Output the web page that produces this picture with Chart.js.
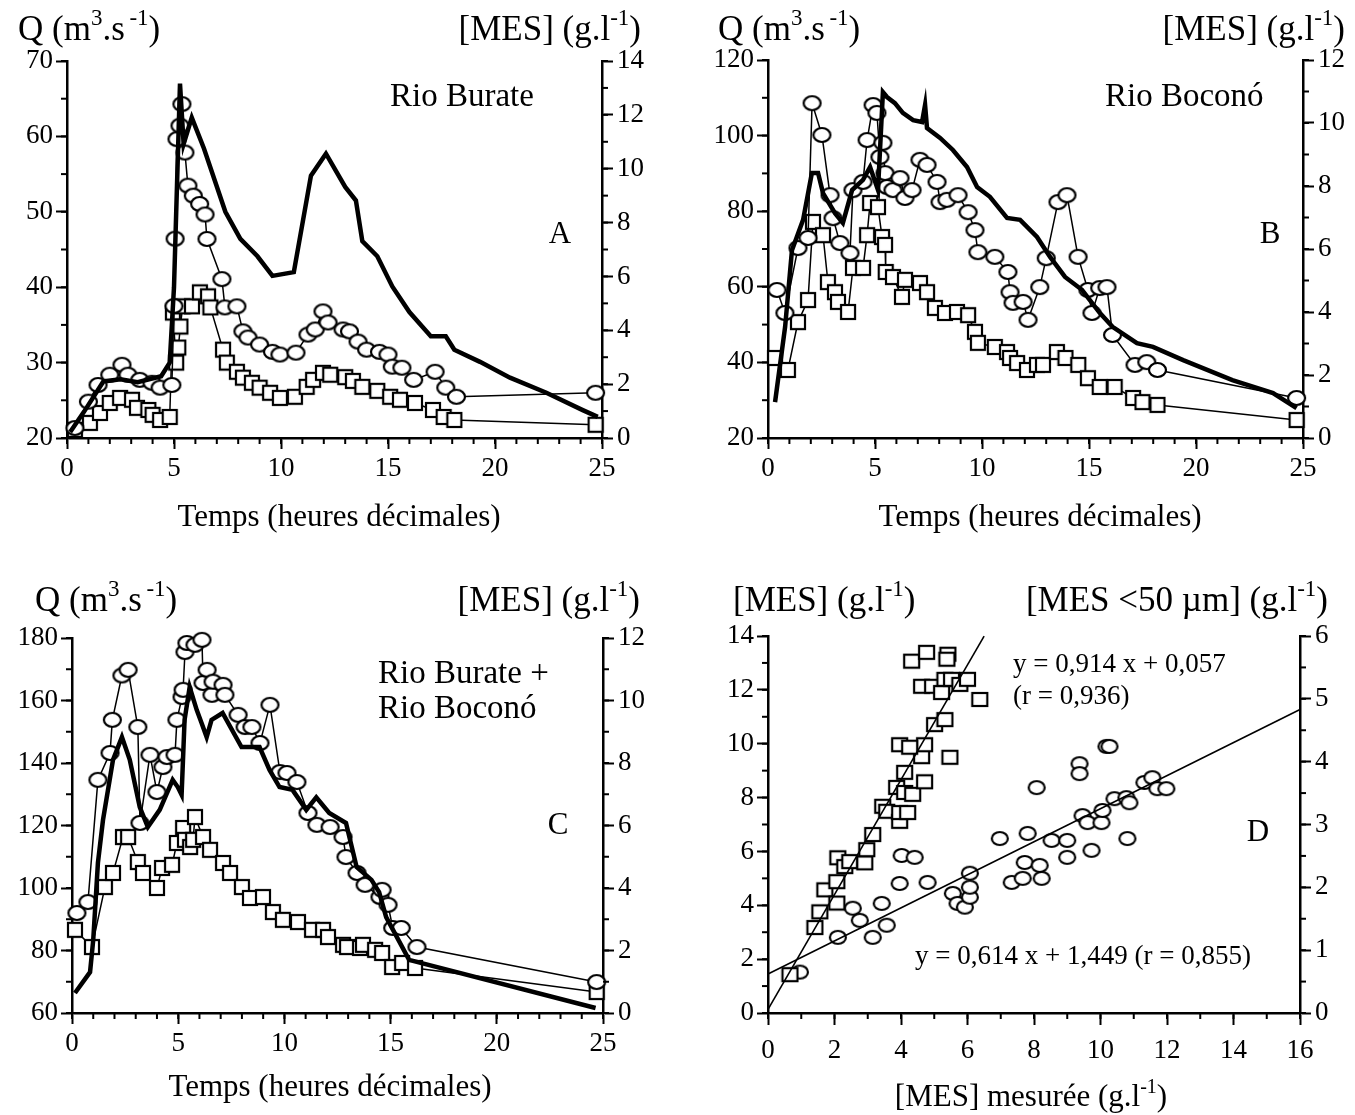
<!DOCTYPE html>
<html>
<head>
<meta charset="utf-8">
<script src="https://cdn.jsdelivr.net/npm/chart.js@4.4.0/dist/chart.umd.min.js"></script>
<style>
  body { margin: 0; background: #fff; width: 1355px; height: 1115px; position: relative; overflow: hidden; }
  .panel { position: absolute; }
</style>
</head>
<body>
<div class="panel" style="left:0;top:0"><canvas id="chartA" width="678" height="545"></canvas></div>
<div class="panel" style="left:700px;top:0"><canvas id="chartB" width="655" height="545"></canvas></div>
<div class="panel" style="left:0;top:570px"><canvas id="chartC" width="678" height="545"></canvas></div>
<div class="panel" style="left:690px;top:570px"><canvas id="chartD" width="665" height="545"></canvas></div>
<script>
// Rio Burate : debit (m3/s) et [MES] (g/l), temps en heures decimales
const burateQ = [[0.15,20.8],[0.8,23.5],[1.7,27.5],[2.5,27.8],[3.3,27.4],[4.4,28.2],[4.8,30],[5.0,40],[5.28,67],[5.45,59],[5.83,62.5],[6.4,58.4],[7.4,50],[8.1,46.4],[8.9,44.1],[9.6,41.5],[10.6,42],[11.4,54.8],[12.1,57.7],[13.0,53.3],[13.5,51.5],[13.8,46.1],[14.5,44.1],[15.2,40.1],[16.0,36.7],[17.0,33.5],[17.7,33.5],[18.1,31.7],[19.3,30.1],[20.7,28],[22.4,26],[24.1,23.7],[24.8,22.8]];
const burateMes = [[0.37,0.37],[1.0,1.35],[1.45,1.97],[2.0,2.35],[2.57,2.72],[2.85,2.35],[3.4,2.16],[3.97,2.05],[4.35,1.87],[4.9,1.97],[5.0,4.9],[5.05,7.4],[5.14,11.1],[5.28,11.6],[5.37,12.4],[5.51,10.6],[5.65,9.37],[5.9,9.0],[6.2,8.69],[6.45,8.3],[6.54,7.39],[7.24,5.9],[7.38,4.85],[7.94,4.89],[8.22,3.96],[8.46,3.73],[9.0,3.47],[9.6,3.2],[9.95,3.1],[10.7,3.17],[11.26,3.84],[11.6,4.03],[11.96,4.7],[12.2,4.29],[12.9,4.03],[13.2,3.96],[13.6,3.58],[14.0,3.28],[14.6,3.2],[15.0,3.1],[15.2,2.65],[15.65,2.61],[16.2,2.16],[17.2,2.46],[17.7,1.87],[18.2,1.53],[24.7,1.68]];
const burateFine = [[0.37,0.3],[1.07,0.56],[1.54,0.93],[2.0,1.3],[2.48,1.49],[3.04,1.42],[3.27,1.12],[3.8,1.04],[4.0,0.86],[4.35,0.67],[4.8,0.78],[4.95,4.66],[5.1,2.8],[5.2,3.36],[5.3,4.14],[5.4,4.89],[5.84,4.89],[6.21,5.41],[6.59,5.26],[6.7,4.85],[7.29,3.28],[7.47,2.8],[7.94,2.46],[8.22,2.24],[8.64,2.05],[9.0,1.87],[9.49,1.68],[9.95,1.49],[10.65,1.53],[11.2,1.9],[11.5,2.16],[11.96,2.42],[12.3,2.35],[13.0,2.26],[13.36,2.12],[13.8,1.9],[14.5,1.75],[15.1,1.53],[15.56,1.42],[16.26,1.3],[17.1,1.04],[17.6,0.78],[18.1,0.67],[24.7,0.49]];

// Rio Bocono
const boconoQ = [[0.33,29.5],[0.8,49.4],[1.12,69.7],[1.64,77.7],[2.05,90.1],[2.34,90.1],[2.57,84.8],[3.13,79.5],[3.5,76.9],[3.93,85.6],[4.44,88.3],[4.77,91.7],[5.14,85.6],[5.37,111.5],[5.56,110.2],[5.93,108.6],[6.3,106],[6.78,104.1],[7.2,103.6],[7.34,108.1],[7.43,102],[8.04,99.4],[8.64,96.2],[9.3,91.7],[9.77,86.4],[10.37,83.8],[11.17,78.2],[11.78,77.7],[12.57,73.2],[13.18,67.9],[13.88,62.6],[14.67,59.2],[15.5,53.1],[16.1,49.4],[17.24,45.1],[17.99,44.1],[19.4,40.6],[21.7,35.3],[23.6,31.9],[24.7,27.9]];
const boconoMes = [[0.42,4.7],[0.79,3.97],[1.4,6.03],[1.87,6.35],[2.06,10.63],[2.52,9.62],[2.9,7.71],[3.04,6.98],[3.36,6.19],[3.83,5.87],[3.97,7.87],[4.44,8.13],[4.63,9.46],[4.91,10.57],[5.09,10.32],[5.23,8.92],[5.37,9.37],[5.47,8.41],[5.56,7.97],[5.84,7.87],[6.17,8.25],[6.4,7.62],[6.73,7.87],[7.1,8.83],[7.43,8.67],[7.9,8.13],[8.04,7.49],[8.36,7.56],[8.88,7.71],[9.35,7.17],[9.67,6.6],[9.81,5.9],[10.6,5.75],[11.21,5.27],[11.31,4.63],[11.45,4.29],[11.92,4.32],[12.15,3.75],[12.7,4.79],[13.0,5.71],[13.55,7.49],[13.97,7.71],[14.49,5.75],[14.95,4.7],[15.14,3.97],[15.5,4.76],[15.84,4.79],[16.1,3.27],[17.15,2.32],[17.7,2.41],[18.2,2.16],[24.7,1.27]];
const boconoFine = [[0.33,2.54],[0.93,2.16],[1.4,3.68],[1.87,4.38],[2.1,6.86],[2.57,6.44],[2.8,4.95],[3.13,4.63],[3.27,4.32],[3.74,4.0],[3.97,5.4],[4.44,5.4],[4.63,6.44],[4.77,7.46],[5.14,7.33],[5.33,6.38],[5.47,6.13],[5.5,5.27],[5.84,5.11],[6.26,4.48],[6.4,5.02],[7.1,4.92],[7.43,4.63],[7.8,4.13],[8.27,3.97],[8.83,4.0],[9.35,3.9],[9.67,3.37],[9.81,3.02],[10.6,2.89],[11.17,2.73],[11.31,2.54],[11.64,2.38],[12.1,2.16],[12.57,2.32],[12.85,2.32],[13.5,2.73],[13.9,2.54],[14.5,2.32],[14.95,1.9],[15.5,1.62],[16.2,1.62],[17.06,1.27],[17.5,1.14],[18.2,1.05],[24.7,0.57]];

// Rio Burate + Rio Bocono
const sumQ = [[0.14,66.4],[0.85,73.1],[1.0,83.4],[1.22,108],[1.46,121.8],[1.93,141],[2.35,148.3],[2.72,141],[3.19,125.9],[3.57,119.5],[4.13,125],[4.74,134.6],[4.98,132.3],[5.16,129.8],[5.3,153.8],[5.54,164.3],[5.87,157],[6.1,152.8],[6.34,148.3],[6.57,153.8],[7.09,156],[7.98,145.1],[8.83,145.1],[9.3,137.8],[9.77,132.3],[10.38,131.4],[11.03,125],[11.5,129],[12.11,124],[12.9,120.8],[13.4,106.7],[14.1,102.6],[14.46,98.7],[14.79,90.7],[15.87,77],[24.65,61.6]];
const sumMes = [[0.23,3.2],[0.75,3.55],[1.22,7.46],[1.79,8.32],[1.9,9.38],[2.35,10.8],[2.64,10.98],[3.1,9.15],[3.2,6.08],[3.67,8.26],[4.0,7.07],[4.28,7.87],[4.47,8.19],[4.85,8.26],[4.94,9.38],[5.18,10.11],[5.23,10.34],[5.32,11.55],[5.41,11.84],[5.79,11.78],[6.12,11.94],[6.17,10.56],[6.36,10.98],[6.59,10.18],[6.64,10.6],[7.11,10.5],[7.2,10.18],[7.82,9.54],[8.15,9.15],[8.47,9.15],[8.85,8.64],[9.32,9.86],[9.79,7.71],[10.12,7.68],[10.59,7.39],[11.11,6.4],[11.53,6.02],[12.15,5.95],[12.76,5.63],[12.9,4.99],[13.42,4.48],[13.8,4.1],[14.5,3.71],[14.6,3.94],[14.88,3.46],[15.1,2.72],[15.5,2.72],[16.24,2.11],[24.7,0.99]];
const sumFine = [[0.14,2.66],[0.94,2.11],[1.55,4.03],[1.93,4.48],[2.4,5.63],[2.64,5.63],[3.1,4.83],[3.34,4.48],[4.0,4.0],[4.24,4.64],[4.71,4.74],[4.94,5.44],[5.23,5.92],[5.32,5.54],[5.56,5.31],[5.7,5.54],[5.79,6.27],[6.17,5.63],[6.5,5.22],[7.11,4.8],[7.44,4.48],[8.0,4.03],[8.38,3.68],[8.99,3.71],[9.46,3.23],[9.93,2.98],[10.64,2.91],[11.3,2.66],[11.82,2.66],[12.05,2.43],[12.76,2.18],[12.95,2.11],[13.56,2.08],[13.7,2.18],[14.27,2.02],[14.6,1.92],[15.07,1.47],[15.54,1.6],[16.15,1.44],[24.7,0.67]];

// D : [MES] mesuree vs [MES] totale (cercles) et [MES <50 um] (carres)
const corrTotal = [[0.96,1.52],[2.1,2.81],[2.55,3.89],[2.76,3.44],[3.15,2.81],[3.57,3.26],[3.42,4.07],[3.96,4.81],[4.02,5.85],[4.41,5.78],[4.8,4.85],[5.56,4.44],[5.7,4.07],[5.92,3.93],[6.07,4.3],[6.07,4.67],[6.07,5.19],[6.97,6.48],[7.81,6.67],[7.33,4.85],[7.66,5.0],[7.72,5.59],[8.08,8.37],[8.23,5.0],[8.17,5.48],[8.53,6.41],[9.0,6.41],[9.0,5.78],[9.37,9.26],[9.37,8.89],[9.46,7.33],[9.61,7.07],[9.73,6.04],[10.03,7.07],[10.06,7.52],[10.18,9.9],[10.27,9.9],[10.42,7.96],[10.78,8.0],[10.87,7.81],[10.81,6.48],[11.32,8.56],[11.56,8.74],[11.71,8.33],[11.98,8.33]];
const corrFine = [[0.66,0.61],[1.41,1.36],[1.56,1.61],[1.71,1.96],[2.07,1.75],[2.07,2.09],[2.1,2.47],[2.31,2.33],[2.46,2.41],[2.91,2.39],[2.97,2.6],[3.15,2.84],[3.45,3.29],[3.57,3.21],[3.87,3.59],[3.96,3.05],[3.96,3.19],[4.11,3.51],[4.2,3.19],[4.35,3.48],[4.11,3.83],[4.71,3.68],[4.62,4.08],[4.71,4.27],[3.96,4.27],[4.26,4.23],[5.47,4.07],[5.01,4.59],[5.32,4.67],[4.62,5.2],[4.95,5.2],[5.22,5.1],[5.32,5.31],[5.52,5.31],[5.77,5.23],[6.0,5.31],[6.37,4.99],[4.32,5.6],[4.77,5.74],[5.41,5.71],[5.38,5.63]];
// droites de regression : pente, ordonnee a l'origine, borne en x
const fitFine = [0.914, 0.057, 6.5];
const fitTotal = [0.614, 1.449, 16];

const FONT = '"Liberation Serif", "Times New Roman", serif';
Chart.defaults.font.family = FONT;
Chart.defaults.color = '#000';

const toXY = arr => arr.map(p => ({x: p[0], y: p[1]}));

const makeCircle = (w, h) => {
    const c = document.createElement('canvas');
    c.width = w + 4; c.height = h + 4;
    const g = c.getContext('2d');
    g.beginPath();
    g.ellipse(c.width / 2, c.height / 2, w / 2, h / 2, 0, 0, Math.PI * 2);
    g.fillStyle = '#fff';
    g.fill();
    g.lineWidth = 2.2;
    g.strokeStyle = '#000';
    g.stroke();
    return c;
}

const makeSquare = (w, h) => {
    const c = document.createElement('canvas');
    c.width = w + 4; c.height = h + 4;
    const g = c.getContext('2d');
    g.fillStyle = '#fff';
    g.fillRect(2, 2, w, h);
    g.lineWidth = 2.2;
    g.strokeStyle = '#000';
    g.strokeRect(2, 2, w, h);
    return c;
}

const circleMark = makeCircle(17, 14);
const squareMark = makeSquare(14, 14);
const circleMarkD = makeCircle(16, 13);
const squareMarkD = makeSquare(15, 13);

// text with superscripts: plain strings, or [str] for exponents
const drawRich = (ctx, parts, x, y, size, align) => {
    const width = p => {
        ctx.font = (Array.isArray(p) ? Math.round(size * 0.65) : size) + 'px ' + FONT;
        return ctx.measureText(Array.isArray(p) ? p[0] : p).width;
    }
    const total = parts.reduce((a, p) => a + width(p), 0);
    let cx = align === 'right' ? x - total : align === 'center' ? x - total / 2 : x;
    parts.forEach(p => {
        const w = width(p);
        ctx.fillText(Array.isArray(p) ? p[0] : p, cx, Array.isArray(p) ? y - size * 0.42 : y);
        cx += w;
    });
}

const textPlugin = items => ({
    id: 'texts',
    afterDraw(chart) {
        const ctx = chart.ctx;
        ctx.save();
        ctx.fillStyle = '#000';
        ctx.textAlign = 'left';
        ctx.textBaseline = 'alphabetic';
        items.forEach(it => drawRich(ctx, it.parts, it.x, it.y, it.size, it.align));
        ctx.restore();
    }
});

// short ticks between the labelled ones
const minorPlugin = steps => ({
    id: 'minorTicks',
    afterDraw(chart) {
        const ctx = chart.ctx;
        ctx.save();
        ctx.strokeStyle = '#000';
        ctx.lineWidth = 2;
        Object.keys(steps).forEach(id => {
            const s = chart.scales[id];
            const step = steps[id];
            for (let v = s.min; v <= s.max + 1e-9; v += step) {
                const p = s.getPixelForValue(v);
                ctx.beginPath();
                if (s.isHorizontal()) {
                    ctx.moveTo(p, s.top); ctx.lineTo(p, s.top + 6);
                } else if (s.position === 'left') {
                    ctx.moveTo(s.right, p); ctx.lineTo(s.right - 6, p);
                } else {
                    ctx.moveTo(s.left, p); ctx.lineTo(s.left + 6, p);
                }
                ctx.stroke();
            }
        });
        ctx.restore();
    }
});

const makeAxis = (position, min, max, step, size, pad, tick) => ({
    type: 'linear', position: position, min: min, max: max,
    grid: { drawOnChartArea: false, color: '#000', tickLength: tick || 11, tickWidth: 2 },
    border: { color: '#000', width: 2.5 },
    ticks: { stepSize: step, color: '#000', font: { size: 27 }, padding: pad, maxRotation: 0, autoSkip: false },
    afterFit: s => {
        if (s.isHorizontal()) { s.height = size; } else { s.width = size; }
    }
});

const seriesSets = (q, mes, fine) => [
    { data: toXY(q), yAxisID: 'yQ', borderColor: '#000', borderWidth: 4.5, pointRadius: 0, tension: 0, order: 0 },
    { data: toXY(mes), yAxisID: 'yM', borderColor: '#000', borderWidth: 1.5, pointStyle: circleMark, pointRadius: 8, tension: 0, order: 1 },
    { data: toXY(fine), yAxisID: 'yM', borderColor: '#000', borderWidth: 1.5, pointStyle: squareMark, pointRadius: 8, tension: 0, order: 2 }
];

const timeChart = (id, q, mes, fine, dims, texts) => new Chart(document.getElementById(id), {
    type: 'line',
    data: { datasets: seriesSets(q, mes, fine) },
    options: {
        responsive: false, animation: false, events: [], devicePixelRatio: 1,
        clip: false,
        layout: { padding: { top: dims.top, left: 0, right: 0, bottom: 0 } },
        plugins: { legend: { display: false }, tooltip: { enabled: false } },
        scales: {
            x: makeAxis('bottom', 0, 25, 5, dims.bottom, 4),
            yQ: makeAxis('left', dims.q[0], dims.q[1], dims.q[2], dims.left, 3),
            yM: makeAxis('right', 0, dims.m, 2, dims.right, 4)
        }
    },
    plugins: [minorPlugin({ x: 1, yQ: dims.q[3], yM: 1 }), textPlugin(texts)]
});

const Q_HEAD = ['Q (m', ['3'], '.s', ['\u2009-1'], ')'];
const MES_HEAD = ['[MES] (g.l', ['-1'], ')'];
const TIME_TITLE = ['Temps (heures d\u00e9cimales)'];
const HEAD = 35;

timeChart('chartA', burateQ, burateMes, burateFine,
    { top: 61, bottom: 107, left: 67, right: 76, q: [20, 70, 10, 5], m: 14 },
    [
        { parts: Q_HEAD, x: 18, y: 40, size: HEAD, align: 'left' },
        { parts: MES_HEAD, x: 641, y: 40, size: HEAD, align: 'right' },
        { parts: ['Rio Burate'], x: 390, y: 106, size: 33, align: 'left' },
        { parts: ['A'], x: 560, y: 243, size: 31, align: 'center' },
        { parts: TIME_TITLE, x: 339, y: 526, size: 31, align: 'center' }
    ]);

timeChart('chartB', boconoQ, boconoMes, boconoFine,
    { top: 60, bottom: 107, left: 68, right: 52, q: [20, 120, 20, 10], m: 12 },
    [
        { parts: Q_HEAD, x: 18, y: 40, size: HEAD, align: 'left' },
        { parts: MES_HEAD, x: 645, y: 40, size: HEAD, align: 'right' },
        { parts: ['Rio Bocon\u00f3'], x: 405, y: 106, size: 33, align: 'left' },
        { parts: ['B'], x: 570, y: 243, size: 31, align: 'center' },
        { parts: TIME_TITLE, x: 340, y: 526, size: 31, align: 'center' }
    ]);

timeChart('chartC', sumQ, sumMes, sumFine,
    { top: 68, bottom: 102, left: 72, right: 75, q: [60, 180, 20, 10], m: 12 },
    [
        { parts: Q_HEAD, x: 35, y: 41, size: HEAD, align: 'left' },
        { parts: MES_HEAD, x: 640, y: 41, size: HEAD, align: 'right' },
        { parts: ['Rio Burate +'], x: 378, y: 113, size: 33, align: 'left' },
        { parts: ['Rio Bocon\u00f3'], x: 378, y: 148, size: 33, align: 'left' },
        { parts: ['C'], x: 558, y: 264, size: 31, align: 'center' },
        { parts: TIME_TITLE, x: 330, y: 526, size: 31, align: 'center' }
    ]);

const fitLine = f => [{ x: 0, y: f[1] }, { x: f[2], y: f[0] * f[2] + f[1] }];

new Chart(document.getElementById('chartD'), {
    type: 'scatter',
    data: {
        datasets: [
            { data: fitLine(fitFine), yAxisID: 'yR', showLine: true, borderColor: '#000', borderWidth: 1.6, pointRadius: 0, order: 0 },
            { data: fitLine(fitTotal), yAxisID: 'yL', showLine: true, borderColor: '#000', borderWidth: 1.6, pointRadius: 0, order: 1 },
            { data: toXY(corrFine), yAxisID: 'yR', pointStyle: squareMarkD, pointRadius: 8, order: 2 },
            { data: toXY(corrTotal), yAxisID: 'yL', pointStyle: circleMarkD, pointRadius: 8, order: 3 }
        ]
    },
    options: {
        responsive: false, animation: false, events: [], devicePixelRatio: 1,
        clip: false,
        layout: { padding: { top: 66, left: 0, right: 0, bottom: 0 } },
        plugins: { legend: { display: false }, tooltip: { enabled: false } },
        scales: {
            x: makeAxis('bottom', 0, 16, 2, 102, 10, 12),
            yL: makeAxis('left', 0, 14, 2, 78, 3),
            yR: makeAxis('right', 0, 6, 1, 55, 4)
        }
    },
    plugins: [
        minorPlugin({ x: 1, yL: 1, yR: 0.5 }),
        textPlugin([
            { parts: MES_HEAD, x: 43, y: 41, size: HEAD, align: 'left' },
            { parts: ['[MES <50 \u00b5m] (g.l', ['-1'], ')'], x: 638, y: 41, size: HEAD, align: 'right' },
            { parts: ['y = 0,914 x + 0,057'], x: 323, y: 102, size: 27, align: 'left' },
            { parts: ['(r = 0,936)'], x: 323, y: 134, size: 27, align: 'left' },
            { parts: ['y = 0,614 x + 1,449 (r = 0,855)'], x: 225, y: 394, size: 27, align: 'left' },
            { parts: ['D'], x: 568, y: 271, size: 31, align: 'center' },
            { parts: ['[MES] mesur\u00e9e (g.l', ['-1'], ')'], x: 341, y: 536, size: 31, align: 'center' }
        ])
    ]
});
</script>
</body>
</html>
